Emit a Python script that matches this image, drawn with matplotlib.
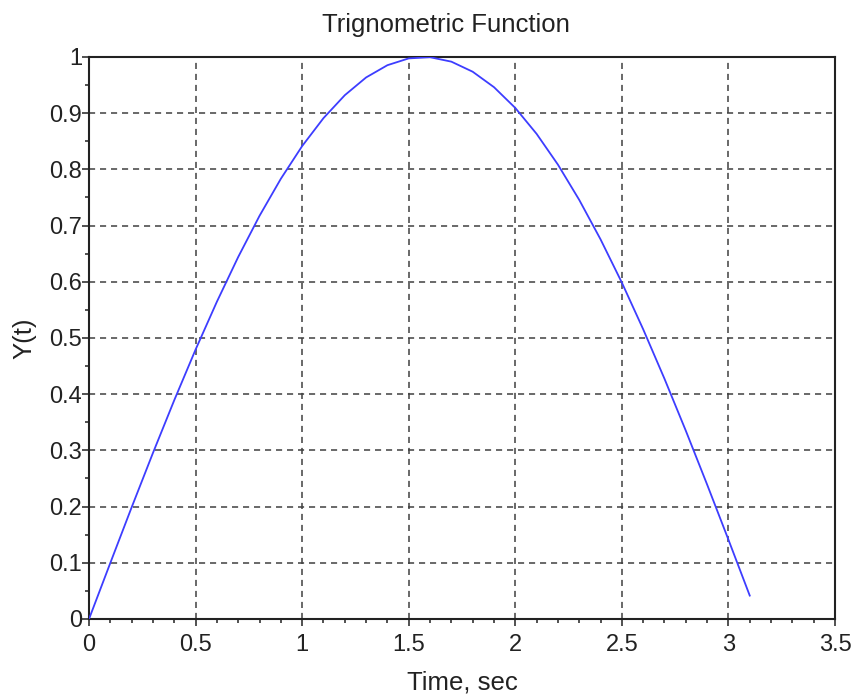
import matplotlib
matplotlib.use('Agg')
import matplotlib.pyplot as plt
from matplotlib.ticker import MultipleLocator

plt.rcParams['font.family'] = ['Liberation Sans', 'DejaVu Sans']

# time samples (sec) and the plotted response
time_sec = [0.0, 0.1, 0.2, 0.3, 0.4, 0.5, 0.6, 0.7, 0.8, 0.9,
            1.0, 1.1, 1.2, 1.3, 1.4, 1.5, 1.6, 1.7, 1.8, 1.9,
            2.0, 2.1, 2.2, 2.3, 2.4, 2.5, 2.6, 2.7, 2.8, 2.9,
            3.0, 3.1]
y_values = [0.0, 0.0998, 0.1987, 0.2955, 0.3894, 0.4794, 0.5646, 0.6442, 0.7174, 0.7833,
            0.8415, 0.8912, 0.9320, 0.9636, 0.9854, 0.9975, 0.9996, 0.9917, 0.9738, 0.9463,
            0.9093, 0.8632, 0.8085, 0.7457, 0.6755, 0.5985, 0.5155, 0.4274, 0.3350, 0.2392,
            0.1411, 0.0416]

x_ticks = [0, 0.5, 1, 1.5, 2, 2.5, 3, 3.5]
x_tick_labels = ['0', '0.5', '1', '1.5', '2', '2.5', '3', '3.5']
y_ticks = [0, 0.1, 0.2, 0.3, 0.4, 0.5, 0.6, 0.7, 0.8, 0.9, 1]
y_tick_labels = ['0', '0.1', '0.2', '0.3', '0.4', '0.5', '0.6', '0.7', '0.8', '0.9', '1']

fig = plt.figure(figsize=(8.61, 6.95), dpi=100)
ax = fig.add_axes([0.1034, 0.1094, 0.9698 - 0.1034, 0.918 - 0.1094])

ax.plot(time_sec, y_values, color='#3d3dff', linewidth=1.3, zorder=3)

ax.set_xlim(0, 3.5)
ax.set_ylim(0, 1)
ax.set_xticks(x_ticks)
ax.set_xticklabels(x_tick_labels)
ax.set_yticks(y_ticks)
ax.set_yticklabels(y_tick_labels)
ax.xaxis.set_minor_locator(MultipleLocator(0.1))
ax.yaxis.set_minor_locator(MultipleLocator(0.05))

ax.grid(True, which='major', color='#404040', linestyle=(0, (4, 3.2)), linewidth=1.1)

ax.tick_params(which='both', direction='out', top=False, right=False,
               color='#222222', width=1.1)
ax.tick_params(which='major', length=5, labelsize=17, labelcolor='#222222')
ax.tick_params(axis='x', which='major', pad=6)
ax.tick_params(axis='y', which='major', pad=0)
ax.tick_params(which='minor', length=3)

for side in ['left', 'right', 'top', 'bottom']:
    ax.spines[side].set_linewidth(1.5)
    ax.spines[side].set_color('#222222')

ax.set_title('Trignometric Function', fontsize=18.5, color='#222222', pad=18, x=0.479)
ax.set_xlabel('Time, sec', fontsize=18.5, color='#222222', labelpad=10)
ax.set_ylabel('Y(t)', fontsize=18.5, color='#222222', labelpad=9)

fig.savefig('out.png', dpi=100)
